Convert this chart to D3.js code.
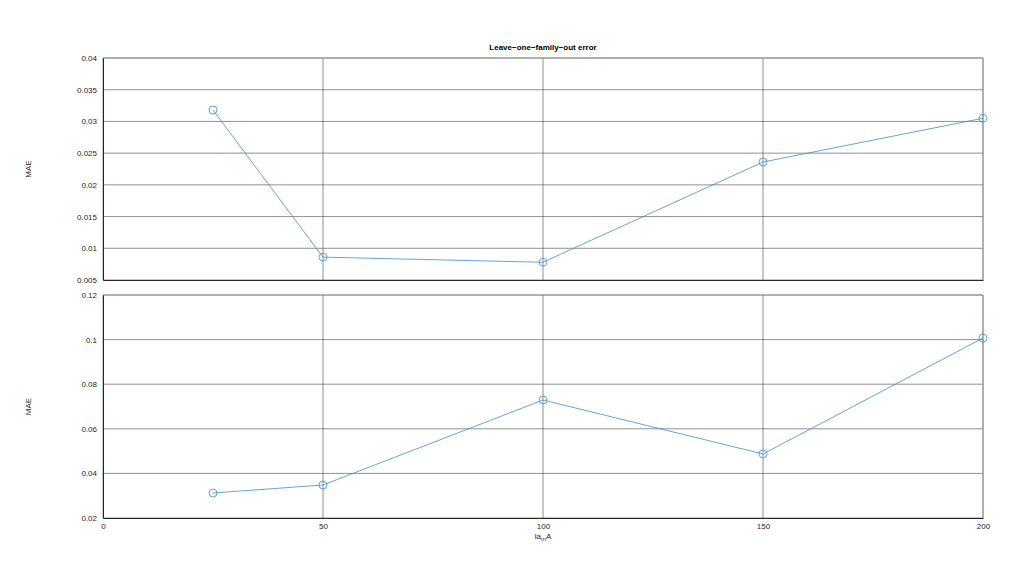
<!DOCTYPE html>
<html>
<head>
<meta charset="utf-8">
<script src="https://cdn.jsdelivr.net/npm/d3@7/dist/d3.min.js"></script>
<style>
	body { margin: 0; background: #fff; }
	svg { font-family: "Liberation Sans", Arial, sans-serif; }
	.tick text { font-size: 8px; fill: #262626; }
	.grid line { stroke: #262626; stroke-opacity: 0.85; stroke-width: 0.6; }
	.lbl { font-size: 8px; fill: #262626; }
</style>
</head>
<body>
<svg></svg>
<script>
	var lambdaValues = [25, 50, 100, 150, 200];
	var maeTop = [0.0318, 0.0086, 0.0078, 0.0236, 0.0305];
	var maeBottom = [0.0312, 0.0348, 0.0729, 0.0487, 0.1007];
	var xTicks = [0, 50, 100, 150, 200];
	var yTicksTop = [0.005, 0.01, 0.015, 0.02, 0.025, 0.03, 0.035, 0.04];
	var yTicksBottom = [0.02, 0.04, 0.06, 0.08, 0.1, 0.12];

	var W = 1024, H = 576;
	var left = 103, right = 983;
	var lineColor = "#3b8fd1";

	var svg = d3.select("svg").attr("width", W).attr("height", H);

	var xScale = d3.scaleLinear().domain([0, 200]).range([left, right]);

	var panels = [
		{ values: maeTop, ticks: yTicksTop, domain: [0.005, 0.04], top: 58, bottom: 280, xLabels: false },
		{ values: maeBottom, ticks: yTicksBottom, domain: [0.02, 0.12], top: 295, bottom: 518, xLabels: true }
	];

	panels.forEach(function (p) {
		var yScale = d3.scaleLinear().domain(p.domain).range([p.bottom, p.top]);
		var g = svg.append("g");

		// grid
		var grid = g.append("g").attr("class", "grid");
		grid.selectAll(".hy").data(p.ticks).enter().append("line")
			.attr("x1", left).attr("x2", right)
			.attr("y1", function (d) { return yScale(d); })
			.attr("y2", function (d) { return yScale(d); });
		grid.selectAll(".vx").data(xTicks).enter().append("line")
			.attr("y1", p.top).attr("y2", p.bottom)
			.attr("x1", function (d) { return xScale(d); })
			.attr("x2", function (d) { return xScale(d); });

		// box top/right
		g.append("line").attr("x1", left).attr("x2", right).attr("y1", p.top).attr("y2", p.top)
			.attr("stroke", "#999").attr("stroke-width", 1);
		g.append("line").attr("x1", right).attr("x2", right).attr("y1", p.top).attr("y2", p.bottom)
			.attr("stroke", "#999").attr("stroke-width", 1);

		var yAxis = d3.axisLeft(yScale).tickValues(p.ticks).tickSize(0).tickPadding(6)
			.tickFormat(function (d) { return String(+d.toFixed(3)); });
		var ya = g.append("g").attr("transform", "translate(" + left + ",0)").call(yAxis);
		ya.select(".domain").attr("stroke", "#262626").attr("stroke-width", 1);

		var xAxis = d3.axisBottom(xScale).tickValues(xTicks).tickSize(0).tickPadding(5);
		if (!p.xLabels) xAxis.tickFormat("");
		var xa = g.append("g").attr("transform", "translate(0," + p.bottom + ")").call(xAxis);
		xa.select(".domain").attr("stroke", "#262626").attr("stroke-width", 1.2);

		var line = d3.line()
			.x(function (d, i) { return xScale(lambdaValues[i]); })
			.y(function (d) { return yScale(d); });
		g.append("path").datum(p.values)
			.attr("d", line)
			.attr("fill", "none")
			.attr("stroke", lineColor)
			.attr("stroke-width", 0.8);

		var pts = g.selectAll(".pt").data(p.values).enter().append("g")
			.attr("transform", function (d, i) { return "translate(" + xScale(lambdaValues[i]) + "," + yScale(d) + ")"; });
		pts.append("circle").attr("r", 4).attr("fill", "none")
			.attr("stroke", lineColor).attr("stroke-width", 0.8);

		var cy = (p.top + p.bottom) / 2;
		svg.append("text").attr("class", "lbl")
			.attr("transform", "translate(31," + cy + ") rotate(-90)")
			.attr("text-anchor", "middle")
			.text("MAE");
	});

	svg.append("text").attr("x", (left + right) / 2).attr("y", 50)
		.attr("text-anchor", "middle")
		.attr("font-size", "8px").attr("font-weight", "bold").attr("fill", "#000")
		.text("Leave\u2212one\u2212family\u2212out error");

	var xl = svg.append("text").attr("class", "lbl")
		.attr("x", (left + right) / 2).attr("y", 539)
		.attr("text-anchor", "middle");
	xl.append("tspan").text("la");
	xl.append("tspan").attr("dy", 2).attr("font-size", "6px").text("m");
	xl.append("tspan").attr("dy", -2).text("A");
</script>
</body>
</html>
